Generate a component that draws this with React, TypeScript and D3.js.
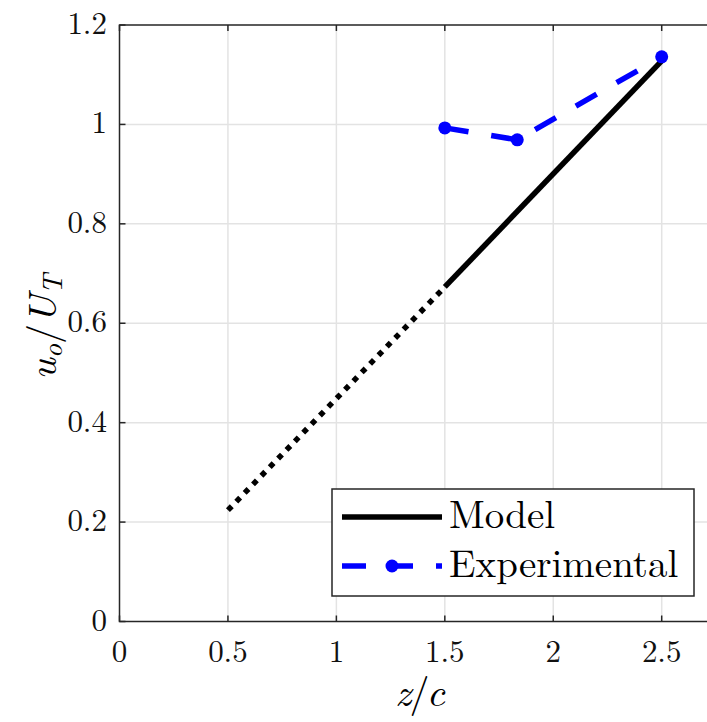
import React, { useEffect, useRef } from "react";
import * as d3 from "d3";

// tick values
const xTicks = [0, 0.5, 1, 1.5, 2, 2.5];
const yTicks = [0, 0.2, 0.4, 0.6, 0.8, 1, 1.2];

// model: extrapolated part (dotted) and fitted part (solid)
const modelDottedZ = [0.5, 1.5];
const modelDottedU = [0.224, 0.673];
const modelSolidZ = [1.5, 2.5];
const modelSolidU = [0.673, 1.128];

// experimental points
const expZ = [1.5, 1.834, 2.5];
const expU = [0.993, 0.969, 1.136];

const W = 707;
const H = 722;

export default function App() {
  const ref = useRef<SVGSVGElement>(null);

  useEffect(() => {
    const svg = d3.select(ref.current);
    svg.selectAll("*").remove();

    const left = 119.5;
    const top = 25;
    const bottom = 621.5;
    const x = d3.scaleLinear().domain([0, 2.5]).range([left, 661.7]);
    const y = d3.scaleLinear().domain([0, 1.2]).range([bottom, top]);
    const right = x(2.8);

    const font = "Latin Modern Roman, serif";
    const axisColor = "#262626";

    // grid
    const grid = svg.append("g");
    grid.selectAll("line.gx")
      .data(xTicks.slice(1))
      .join("line")
      .attr("x1", d => x(d)).attr("x2", d => x(d))
      .attr("y1", top).attr("y2", bottom)
      .attr("stroke", "#e3e3e3").attr("stroke-width", 1.5);
    grid.selectAll("line.gy")
      .data(yTicks.slice(1, -1))
      .join("line")
      .attr("x1", left).attr("x2", right)
      .attr("y1", d => y(d)).attr("y2", d => y(d))
      .attr("stroke", "#e3e3e3").attr("stroke-width", 1.5);

    // axes box (left, bottom, top)
    svg.append("path")
      .attr("d", `M${right},${top}H${left}V${bottom}H${right}`)
      .attr("fill", "none").attr("stroke", axisColor).attr("stroke-width", 1.5);

    // ticks (inward)
    const ticks = svg.append("g").attr("stroke", axisColor).attr("stroke-width", 1.5);
    xTicks.forEach(t => {
      ticks.append("line").attr("x1", x(t)).attr("x2", x(t)).attr("y1", bottom).attr("y2", bottom - 6);
      ticks.append("line").attr("x1", x(t)).attr("x2", x(t)).attr("y1", top).attr("y2", top + 6);
    });
    yTicks.forEach(t => {
      ticks.append("line").attr("x1", left).attr("x2", left + 6).attr("y1", y(t)).attr("y2", y(t));
    });

    // tick labels
    svg.append("g").selectAll("text")
      .data(xTicks)
      .join("text")
      .attr("x", d => x(d)).attr("y", 662)
      .attr("text-anchor", "middle")
      .attr("font-family", font).attr("font-size", 31).attr("fill", "#111")
      .text(d => String(d));
    svg.append("g").selectAll("text")
      .data(yTicks)
      .join("text")
      .attr("x", 107).attr("y", d => y(d) + 9)
      .attr("text-anchor", "end")
      .attr("font-family", font).attr("font-size", 31).attr("fill", "#111")
      .text(d => String(d));

    // axis labels
    const xl = svg.append("text")
      .attr("x", 420).attr("y", 706)
      .attr("text-anchor", "middle")
      .attr("font-family", font).attr("font-size", 40).attr("font-style", "italic");
    xl.append("tspan").text("z");
    xl.append("tspan").attr("font-style", "normal").attr("dx", -2).text("/");
    xl.append("tspan").attr("dx", -3).text("c");

    const yl = svg.append("text")
      .attr("transform", `translate(56,327) rotate(-90)`)
      .attr("text-anchor", "middle")
      .attr("font-family", font).attr("font-size", 40).attr("font-style", "italic");
    yl.append("tspan").text("u");
    yl.append("tspan").attr("font-size", 28).attr("dy", 6).text("o");
    yl.append("tspan").attr("font-style", "normal").attr("dy", -6).text("/");
    yl.append("tspan").text("U");
    yl.append("tspan").attr("font-size", 28).attr("dy", 6).text("T");

    const line = d3.line<[number, number]>().x(d => x(d[0])).y(d => y(d[1]));

    // model
    svg.append("path")
      .attr("d", line(d3.zip(modelDottedZ, modelDottedU) as [number, number][]))
      .attr("fill", "none").attr("stroke", "#000").attr("stroke-width", 5.5)
      .attr("stroke-dasharray", "5.5 6.5");
    svg.append("path")
      .attr("d", line(d3.zip(modelSolidZ, modelSolidU) as [number, number][]))
      .attr("fill", "none").attr("stroke", "#000").attr("stroke-width", 5.5);

    // experimental
    const expPts = d3.zip(expZ, expU) as [number, number][];
    svg.append("path")
      .attr("d", line(expPts))
      .attr("fill", "none").attr("stroke", "#0000ff").attr("stroke-width", 5.5)
      .attr("stroke-dasharray", "24 23");
    svg.append("g").selectAll("circle")
      .data(expPts)
      .join("circle")
      .attr("cx", d => x(d[0])).attr("cy", d => y(d[1]))
      .attr("r", 6.5).attr("fill", "#0000ff");

    // legend
    const lg = svg.append("g");
    lg.append("rect")
      .attr("x", 332).attr("y", 489).attr("width", 362).attr("height", 107)
      .attr("fill", "#fff").attr("stroke", axisColor).attr("stroke-width", 1.5);
    lg.append("line")
      .attr("x1", 342).attr("x2", 442).attr("y1", 517).attr("y2", 517)
      .attr("stroke", "#000").attr("stroke-width", 5.5);
    lg.append("text")
      .attr("x", 449).attr("y", 528)
      .attr("font-family", font).attr("font-size", 39)
      .text("Model");
    lg.append("line")
      .attr("x1", 342).attr("x2", 442).attr("y1", 566).attr("y2", 566)
      .attr("stroke", "#0000ff").attr("stroke-width", 5.5)
      .attr("stroke-dasharray", "24 23");
    lg.append("circle")
      .attr("cx", 392).attr("cy", 566).attr("r", 6.5).attr("fill", "#0000ff");
    lg.append("text")
      .attr("x", 449).attr("y", 577)
      .attr("font-family", font).attr("font-size", 39)
      .text("Experimental");
  }, []);

  return (
    <svg
      ref={ref}
      width={W}
      height={H}
      style={{ display: "block", position: "absolute", left: 0, top: 0, background: "#fff" }}
    />
  );
}
